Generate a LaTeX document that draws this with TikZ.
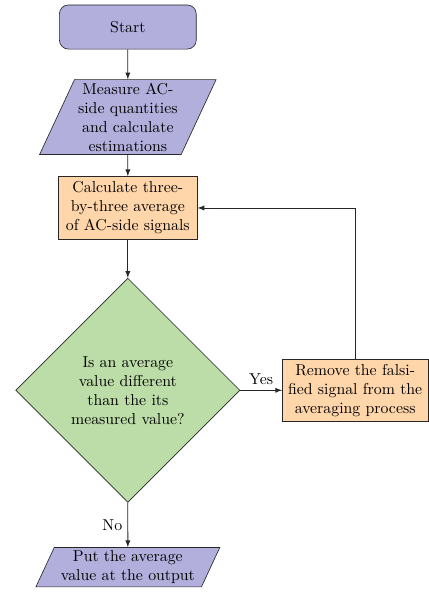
\documentclass[tikz,border=0pt]{standalone}
\usepackage{tikz}
\usetikzlibrary{shapes.geometric,arrows}

\definecolor{lilac}{RGB}{178,175,220}
\definecolor{peach}{RGB}{255,213,170}
\definecolor{sage}{RGB}{188,221,167}

\tikzset{
	startstop/.style={rectangle, rounded corners=2mm, draw=black!85, fill=lilac, minimum width=3.04cm, minimum height=0.98cm},
	inout/.style={trapezium, trapezium left angle=65, trapezium right angle=115, draw=black!85, fill=lilac, align=center, inner xsep=1pt, inner ysep=2pt},
	process/.style={rectangle, draw=black!85, fill=peach, align=center},
	decision/.style={diamond, draw=black!85, fill=sage, align=center, inner sep=0pt, minimum size=4.98cm, text width=2.6cm},
	flow/.style={->, >=latex, draw=black!85, line width=0.5pt},
}

\begin{document}
\begin{tikzpicture}
	\useasboundingbox (0,0) rectangle (9.51,-13.24);
	
	\node[startstop] (start) at (2.84,-0.6) {Start};
	\node[inout, text width=2.3cm] (measure) at (2.84,-2.6) {Measure AC-side quantities and calculate estimations};
	\node[process, text width=2.85cm] (average) at (2.84,-4.62) {Calculate three-by-three average of AC-side signals};
	\node[decision] (check) at (2.84,-8.67) {Is an average value different than the its measured value?};
	\node[process, text width=3.0cm] (remove) at (7.89,-8.67) {Remove the falsified signal from the averaging process};
	\node[inout, text width=3.2cm] (output) at (2.84,-12.6) {Put the average value at the output};
	
		%Connectors
		\draw[flow] (start) -- (measure);
		\draw[flow] (measure) -- (average);
		\draw[flow] (average) -- (check);
		\draw[flow] (check.east) -- node[above] {Yes} (remove.west);
		\draw[flow] (remove.north) |- (average.east);
		\draw[flow] (check.south) -- node[left] {No} (output.north);
\end{tikzpicture}
\end{document}
